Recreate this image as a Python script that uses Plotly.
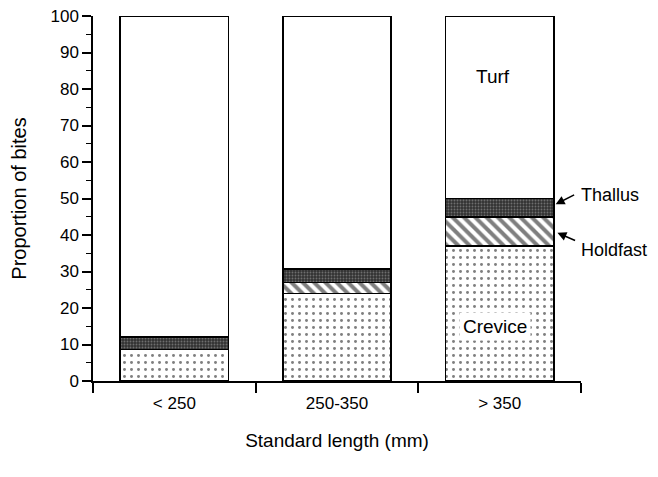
import plotly.graph_objects as go

categories = ["< 250", "250-350", "> 350"]
crevice = [8.7, 24.0, 37.0]
holdfast = [0.0, 3.0, 8.0]
thallus = [3.4, 3.7, 5.0]
turf = [87.9, 69.3, 50.0]
y_ticks = [0, 10, 20, 30, 40, 50, 60, 70, 80, 90, 100]

FONT = "Arial, Liberation Sans, sans-serif"
line = dict(color="black", width=1.5)

fig = go.Figure()
fig.add_trace(go.Bar(name="Crevice", x=categories, y=crevice,
                     marker=dict(color="white", line=line,
                                 pattern=dict(shape=".", size=7, solidity=0.14,
                                              fgcolor="black", bgcolor="white"))))
fig.add_trace(go.Bar(name="Holdfast", x=categories, y=holdfast,
                     marker=dict(color="white", line=line,
                                 pattern=dict(shape="\\", size=8, solidity=0.5,
                                              fgcolor="black", bgcolor="white"))))
fig.add_trace(go.Bar(name="Thallus", x=categories, y=thallus,
                     marker=dict(color="#444", line=line,
                                 pattern=dict(shape=".", size=3, solidity=0.3,
                                              fgcolor="#aaaaaa", bgcolor="#333333"))))
fig.add_trace(go.Bar(name="Turf", x=categories, y=turf,
                     marker=dict(color="white", line=line)))

annos = [
    dict(x=1.96, y=83.4, text="Turf", showarrow=False),
    dict(x=1.97, y=14.9, text="Crevice", showarrow=False, bgcolor="white", borderpad=3),
    dict(x=2.486, y=51.0, text="Thallus", showarrow=False, xanchor="left"),
    dict(x=2.486, y=36.0, text="Holdfast", showarrow=False, xanchor="left"),
    dict(x=2.344, y=48.4, ax=2.467, ay=51.2, axref="x", ayref="y", text="",
         showarrow=True, arrowhead=2, arrowsize=1.2, arrowwidth=1.5, arrowcolor="black"),
    dict(x=2.355, y=40.6, ax=2.473, ay=38.3, axref="x", ayref="y", text="",
         showarrow=True, arrowhead=2, arrowsize=1.2, arrowwidth=1.5, arrowcolor="black"),
]
for i, a in enumerate(annos):
    a.setdefault("xref", "x")
    a.setdefault("yref", "y")
    a["font"] = dict(family=FONT, size=19 if i < 2 else 18, color="black")
    fig.add_annotation(**a)

fig.update_layout(
    barmode="stack",
    bargap=0.334,
    showlegend=False,
    width=658, height=477,
    margin=dict(l=85, r=85, t=8, b=104),
    paper_bgcolor="white", plot_bgcolor="white",
    font=dict(family=FONT, size=17, color="black"),
)
fig.update_xaxes(
    type="category", tickson="boundaries", ticks="outside", ticklen=10,
    tickwidth=1.5, tickcolor="black", showline=True, linecolor="black", linewidth=1.5,
    showgrid=False, ticklabelstandoff=6, automargin=False, ticklabeloverflow="allow",
    title=dict(text="Standard length (mm)", font=dict(size=19), standoff=22),
    range=[-0.5, 2.5],
)
fig.update_yaxes(
    range=[0, 100], tickvals=y_ticks, ticks="outside", ticklen=9, tickwidth=1.5,
    tickcolor="black", showline=True, linecolor="black", linewidth=1.5,
    showgrid=False, zeroline=False, automargin=False, ticklabeloverflow="allow",
    minor=dict(dtick=5, ticks="outside", ticklen=5, tickwidth=1.2, tickcolor="black"),
    title=dict(text="Proportion of bites", font=dict(size=20), standoff=29),
)
fig.write_html("out.html")
